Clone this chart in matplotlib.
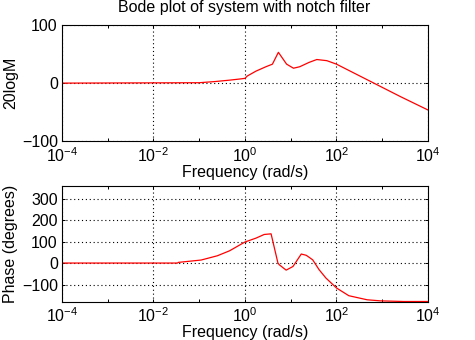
import matplotlib
matplotlib.use("Agg")
import matplotlib.pyplot as plt
from matplotlib.ticker import FixedLocator, NullFormatter

plt.rcParams['font.family'] = ['Liberation Sans', 'DejaVu Sans']
plt.rcParams['mathtext.fontset'] = 'custom'
plt.rcParams['mathtext.rm'] = 'Liberation Sans'
plt.rcParams['mathtext.it'] = 'Liberation Sans'
plt.rcParams['mathtext.default'] = 'regular'

# Data (frequency in rad/s)
mag_freq = [1e-4, 0.1, 0.22, 0.47, 0.79, 1.0, 1.12, 1.74, 2.88, 3.98, 5.37, 8.13, 11.5, 15.8, 25.1, 37.2, 61.7, 100.0, 282.0, 646.0, 2512.0, 1e4]
mag_db = [0.3, 1.0, 3.0, 5.5, 7.5, 8.5, 12.5, 21.0, 28.6, 33.0, 53.4, 33.0, 26.0, 28.6, 36.0, 41.0, 39.0, 33.0, 15.0, 0.6, -23.0, -46.0]

ph_freq = [1e-4, 0.0339, 0.0347, 0.11, 0.25, 0.46, 1.0, 1.74, 2.63, 3.72, 5.25, 5.62, 7.94, 11.2, 17.0, 21.9, 30.2, 41.7, 58.9, 100.0, 186.0, 468.0, 912.0, 2951.0, 1e4]
ph_deg = [0.0, 0.0, 3.0, 14.0, 34.0, 57.0, 98.0, 116.0, 133.0, 136.0, 0.0, -8.0, -33.0, -16.0, 42.0, 36.0, 15.0, -31.0, -70.0, -116.0, -152.0, -171.0, -176.0, -179.0, -179.0]

mag_yticks = [-100, 0, 100]
ph_yticks = [-100, 0, 100, 200, 300]
major_x = [1e-4, 1e-2, 1e0, 1e2, 1e4]
minor_x = [1e-3, 1e-1, 1e1, 1e3]
xlab = [r'$10^{-4}$', r'$10^{-2}$', r'$10^{0}$', r'$10^{2}$', r'$10^{4}$']

fig = plt.figure(figsize=(4.75, 3.4), dpi=100)
fs = 11.5
tfs = 11.5

ax1 = fig.add_axes([0.1305, 0.5844, 0.7705, 0.3412])
ax2 = fig.add_axes([0.1305, 0.1126, 0.7705, 0.3412])

def style(ax, yticks, ylim):
    ax.set_xscale('log')
    ax.set_xlim(1e-4, 1e4)
    ax.set_ylim(*ylim)
    ax.xaxis.set_major_locator(FixedLocator(major_x))
    ax.xaxis.set_minor_locator(FixedLocator(minor_x))
    ax.xaxis.set_minor_formatter(NullFormatter())
    ax.set_xticklabels(xlab)
    ax.set_yticks(yticks)
    ax.set_yticklabels([('\u2212%d' % -v) if v < 0 else '%d' % v for v in yticks])
    ax.tick_params(which='both', direction='in', top=True, right=True,
                   length=2.5, width=0.72, labelsize=tfs)
    ax.tick_params(axis='x', which='both', pad=3.5)
    ax.tick_params(axis='y', which='both', pad=3)
    for s in ax.spines.values():
        s.set_linewidth(0.8)
    ax.grid(True, which='major', color='black', linestyle=(0, (1, 2.5)), linewidth=0.8)
    ax.set_xlabel('Frequency (rad/s)', fontsize=fs, labelpad=0)
    ax.yaxis.set_label_coords(-0.119, 0.5)

ax1.plot(mag_freq, mag_db, color='red', linewidth=0.9)
style(ax1, mag_yticks, (-100, 100))
ax1.set_ylabel('20logM', fontsize=fs)

ax2.plot(ph_freq, ph_deg, color='red', linewidth=0.9)
style(ax2, ph_yticks, (-180, 360))
ax2.set_ylabel('Phase (degrees)', fontsize=fs)

fig.text(0.5148, 1 - 12 / 340, 'Bode plot of system with notch filter',
         ha='center', va='baseline', fontsize=fs)

fig.savefig('out.png', dpi=100)
